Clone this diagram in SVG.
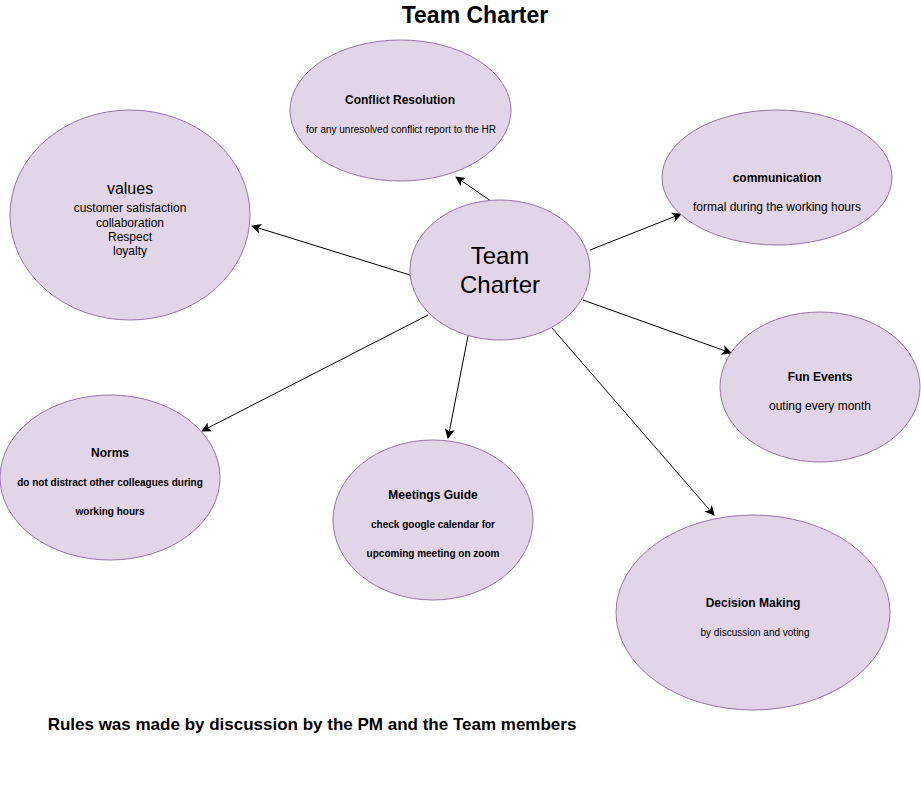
<svg xmlns="http://www.w3.org/2000/svg" width="921" height="801" viewBox="0 0 921 801">
<defs>
<marker id="arr" viewBox="0 0 10 10" refX="9" refY="5" markerWidth="10" markerHeight="10" markerUnits="userSpaceOnUse" orient="auto">
<path d="M0,0 L10,5 L0,10 L2.5,5 Z" fill="#000"/>
</marker>
<style>
.n{fill:#e1d5e7;stroke:#9673a6;stroke-width:1}
text{font-family:"Liberation Sans",Arial,sans-serif;fill:#000;text-anchor:middle}
.h{font-size:12px;font-weight:bold}
.s{font-size:10px}
.sb{font-size:10px;font-weight:bold}
.m{font-size:12px}
.c line{stroke:#000;stroke-width:1;marker-end:url(#arr)}
</style>
</defs>
<rect width="921" height="801" fill="#fff"/>
<text x="475" y="23" style="font-size:23px;font-weight:bold">Team Charter</text>
<g class="c" id="connectors">
<line x1="491" y1="201" x2="456" y2="177"/>
<line x1="410" y1="275" x2="252" y2="226"/>
<line x1="590" y1="250" x2="681" y2="214"/>
<line x1="583" y1="300" x2="731" y2="353"/>
<line x1="552" y1="328" x2="714" y2="515"/>
<line x1="468" y1="336" x2="448" y2="438"/>
<line x1="428" y1="315" x2="202" y2="431"/>
</g>
<g id="conflict">
<ellipse class="n" cx="400.5" cy="110.5" rx="110.5" ry="70.5"/>
<text class="h" x="400" y="104">Conflict Resolution</text>
<text class="s" x="401" y="133">for any unresolved conflict report to the HR</text>
</g>
<g id="values">
<ellipse class="n" cx="130" cy="215" rx="120" ry="105"/>
<text x="130" y="194" style="font-size:16px">values</text>
<text class="m" x="130" y="212">customer satisfaction</text>
<text class="m" x="130" y="227">collaboration</text>
<text class="m" x="130" y="241">Respect</text>
<text class="m" x="130" y="255">loyalty</text>
</g>
<g id="communication">
<ellipse class="n" cx="777" cy="177.5" rx="115" ry="67.5"/>
<text class="h" x="777" y="182">communication</text>
<text class="m" x="777" y="211">formal during the working hours</text>
</g>
<g id="center">
<ellipse class="n" cx="500" cy="270" rx="90" ry="70"/>
<text x="500" y="264" style="font-size:24px">Team</text>
<text x="500" y="293" style="font-size:24px">Charter</text>
</g>
<g id="norms">
<ellipse class="n" cx="110" cy="477.5" rx="110" ry="82.5"/>
<text class="h" x="110" y="457">Norms</text>
<text class="sb" x="110" y="486">do not distract other colleagues during</text>
<text class="sb" x="110" y="515">working hours</text>
</g>
<g id="meetings">
<ellipse class="n" cx="433" cy="520" rx="100" ry="80"/>
<text class="h" x="433" y="499">Meetings Guide</text>
<text class="sb" x="433" y="528">check google calendar for</text>
<text class="sb" x="433" y="557">upcoming meeting on zoom</text>
</g>
<g id="fun">
<ellipse class="n" cx="820" cy="387" rx="100" ry="75"/>
<text class="h" x="820" y="381">Fun Events</text>
<text class="m" x="820" y="410">outing every month</text>
</g>
<g id="decision">
<ellipse class="n" cx="753" cy="612.5" rx="137" ry="97.5"/>
<text class="h" x="753" y="607">Decision Making</text>
<text class="s" x="755" y="636">by discussion and voting</text>
</g>
<text x="312" y="730" style="font-size:17px;font-weight:bold">Rules was made by discussion by the PM and the Team members</text>
</svg>
